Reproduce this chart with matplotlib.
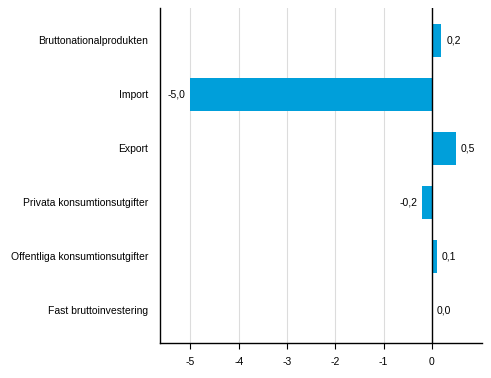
import matplotlib.pyplot as plt

categories = ['Bruttonationalprodukten', 'Import', 'Export',
              'Privata konsumtionsutgifter', 'Offentliga konsumtionsutgifter',
              'Fast bruttoinvestering']
values = [0.2, -5.0, 0.5, -0.2, 0.1, 0.0]
xticks = [-5, -4, -3, -2, -1, 0]

plt.rcParams['font.family'] = ['Liberation Sans', 'DejaVu Sans']
plt.rcParams['font.size'] = 7.5

fig = plt.figure(figsize=(4.91, 3.78), dpi=100)
ax = fig.add_axes([159.5 / 491, 1 - 342.7 / 378, (482 - 159.5) / 491, (342.7 - 8) / 378])

pos = list(range(len(categories)))
ax.barh(pos, values, height=0.6, color='#009fda', zorder=3)
ax.set_ylim(5.6, -0.6)
ax.set_xlim(-5.64, 1.04)
ax.set_xticks(xticks)
ax.set_xticklabels([str(t) for t in xticks])
ax.set_yticks(pos)
ax.set_yticklabels(categories)
ax.tick_params(axis='y', length=0, pad=8)
ax.tick_params(axis='x', length=4, width=0.8, pad=6)

# light vertical gridlines, black zero line on top
ax.grid(axis='x', color='#dcdcdc', linewidth=0.8, zorder=0)
ax.axvline(0, color='black', linewidth=1, zorder=4)
for s in ['top', 'right']:
    ax.spines[s].set_visible(False)
ax.spines['left'].set_linewidth(1)
ax.spines['bottom'].set_linewidth(1)

for p, v in zip(pos, values):
    txt = f'{v:.1f}'.replace('.', ',')
    if v < 0:
        ax.annotate(txt, (v, p), xytext=(-5, 0), textcoords='offset pixels',
                    ha='right', va='center')
    else:
        ax.annotate(txt, (v, p), xytext=(5, 0), textcoords='offset pixels',
                    ha='left', va='center')

fig.savefig('out.png', dpi=100)
